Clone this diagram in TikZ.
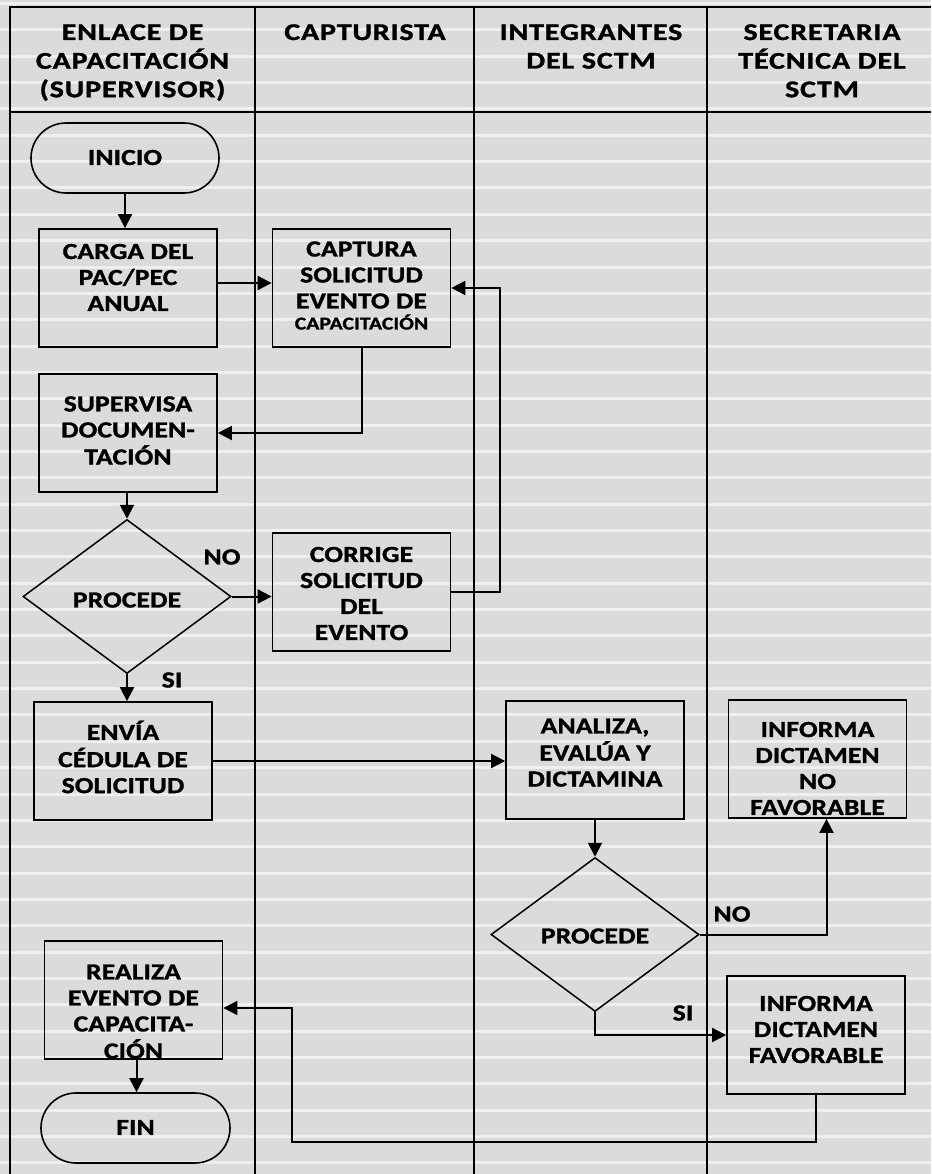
\documentclass[tikz,border=0pt]{standalone}
\usepackage{fontspec}
\setmainfont{Carlito}
\newfontfamily\bfam{Carlito}[FakeStretch=1.2,LetterSpace=0.5,FakeBold=1.3]
\newfontfamily\hfam{Carlito}[FakeStretch=1.25,LetterSpace=3.5,FakeBold=1.3]
\usetikzlibrary{arrows.meta,shapes.geometric}
\definecolor{bgc}{RGB}{218,219,221}
\definecolor{stripec}{RGB}{239,239,240}
\newcommand\bt[2][0]{\raisebox{\dimexpr #1pt-8pt\relax}[0pt][0pt]{\begin{tabular}{@{}c@{}}#2\end{tabular}}}
\newcommand\hd[1]{\begin{tabular}[t]{@{}c@{}}#1\end{tabular}}
\tikzset{
  proc/.style={draw, line width=1.8pt, inner sep=0pt, minimum width=178pt, minimum height=118pt,
    font=\bfam\bfseries\fontsize{23}{26}\selectfont},
  term/.style={draw, line width=1.6pt, inner sep=0pt, rounded corners=35pt, minimum width=188pt, minimum height=70pt,
    font=\bfam\bfseries\fontsize{23}{26}\selectfont},
  dec/.style={draw, diamond, line width=1.5pt, inner sep=0pt, minimum width=208pt, minimum height=154pt,
    font=\bfam\bfseries\fontsize{23}{26}\selectfont},
  lbl/.style={inner sep=0pt, font=\bfam\bfseries\fontsize{23}{26}\selectfont},
  hdr/.style={inner sep=0pt, anchor=base, font=\hfam\bfseries\fontsize{24}{28.5}\selectfont},
  lane/.style={line width=2pt},
  arr/.style={line width=2pt, -{Triangle[length=14pt,width=14pt]}},
}
\begin{document}
\begin{tikzpicture}[x=1pt,y=-1pt]
\useasboundingbox (0,0) rectangle (931,1174);
\fill[bgc] (0,0) rectangle (931,1174);
\foreach \k in {0,...,44} \fill[stripec] (0,{2+26.35*\k}) rectangle (931,{5+26.35*\k});
% lanes
\draw[lane] (10,1174) -- (10,7) -- (931,7);
\draw[lane] (10,112) -- (931,112);
\draw[lane] (255,7) -- (255,1174);
\draw[lane] (474,7) -- (474,1174);
\draw[lane] (707,7) -- (707,1174);
% headers
\node[hdr] (h1) at (132.5,40) {\hd{ENLACE DE\\CAPACITACIÓN\\(SUPERVISOR)}};
\node[hdr] (h2) at (365,40) {\hd{CAPTURISTA}};
\node[hdr] (h3) at (591,40) {\hd{INTEGRANTES\\DEL SCTM}};
\node[hdr] (h4) at (822,40) {\hd{SECRETARIA\\TÉCNICA DEL\\SCTM}};
% nodes
\node[term] (inicio) at (125,158) {\bt{INICIO}};
\node[proc] (carga) at (128,288) {\bt[10]{CARGA DEL\\PAC/PEC\\ANUAL}};
\node[proc] (captura) at (361.5,288) {\bt[2]{CAPTURA\\SOLICITUD\\EVENTO DE\\[-5pt]{\fontsize{18}{20}\selectfont CAPACITACIÓN}}};
\node[proc] (supervisa) at (128,433) {\bt[2]{SUPERVISA\\DOCUMEN-\\TACIÓN}};
\node[dec] (dec1) at (127,596.5) {\bt[-4]{PROCEDE}};
\node[proc] (corrige) at (361.5,592) {\bt[-2]{CORRIGE\\SOLICITUD\\DEL\\EVENTO}};
\node[proc] (envia) at (123,761) {\bt[2]{ENVÍA\\CÉDULA DE\\SOLICITUD}};
\node[proc] (analiza) at (595,760) {\bt[7]{ANALIZA,\\EVALÚA Y\\DICTAMINA}};
\node[proc] (nofav) at (817.5,759) {\bt[-10]{INFORMA\\DICTAMEN\\NO\\FAVORABLE}};
\node[dec] (dec2) at (595,934.5) {\bt[-2]{PROCEDE}};
\node[proc] (fav) at (816,1035) {\bt[5]{INFORMA\\DICTAMEN\\FAVORABLE}};
\node[proc] (realiza) at (133.5,1000) {\bt[-12]{REALIZA\\EVENTO DE\\CAPACITA-\\CIÓN}};
\node[term, minimum width=189pt] (fin) at (135.5,1128) {\bt{FIN}};
% labels
\node[lbl] (no1) at (222,557) {NO};
\node[lbl] (si1) at (172,680) {SI};
\node[lbl] (no2) at (732,914) {NO};
\node[lbl] (si2) at (683,1013) {SI};
% coordinates
\coordinate (r1) at (500,592);
\coordinate (b2) at (292,1142);
% connectors
\draw[arr] (inicio.south) -- (inicio.south |- carga.north);
\draw[arr] ([yshift=5pt]carga.east) -- ([yshift=5pt]carga.east -| captura.west);
\draw[arr] (captura.south) |- (supervisa.east);
\draw[arr] (dec1.north |- supervisa.south) -- (dec1.north);
\draw[arr] (dec1.east) -- (dec1.east -| corrige.west);
\draw[arr] (corrige.east) -- (r1) |- (captura.east);
\draw[arr] (dec1.south) -- (dec1.south |- envia.north);
\draw[arr] (envia.east) -- (envia.east -| analiza.west);
\draw[arr] (analiza.south) -- (analiza.south |- dec2.north);
\draw[arr] (dec2.east) -| ([xshift=9pt]nofav.south);
\draw[arr] (dec2.south) |- (fav.west);
\draw[arr] (fav.south) |- (b2) |- ([yshift=-8pt]realiza.east);
\draw[arr] ([xshift=3pt]realiza.south) -- ([xshift=3pt]realiza.south |- fin.north);
\end{tikzpicture}
\end{document}
